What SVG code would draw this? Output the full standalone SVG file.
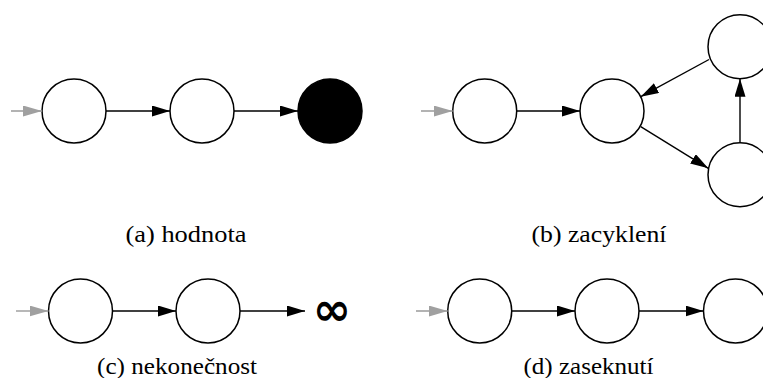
<svg xmlns="http://www.w3.org/2000/svg" width="763" height="378" viewBox="0 0 763 378">
  <style>
    .state { fill: #ffffff; stroke: #000000; stroke-width: 1.5; }
    .final { fill: #000000; stroke: #000000; stroke-width: 1.5; }
    .edge { stroke: #000000; stroke-width: 1.4; fill: none; marker-end: url(#head); }
    .start { stroke: #a0a0a0; stroke-width: 1.6; fill: none; marker-end: url(#headGray); }
    .caption { font-family: "Liberation Serif", "DejaVu Serif", serif; font-size: 23px; fill: #000000; text-anchor: middle; }
    .inf { font-family: "DejaVu Sans", "Liberation Sans", sans-serif; font-weight: bold; font-size: 46px; fill: #000000; text-anchor: middle; }
  </style>
  <defs>
    <marker id="head" markerUnits="userSpaceOnUse" markerWidth="18" markerHeight="11" refX="18" refY="5.5" orient="auto">
      <path d="M0,0 L18,5.5 L0,11 Z" fill="#000000"/>
    </marker>
    <marker id="headGray" markerUnits="userSpaceOnUse" markerWidth="19" markerHeight="11" refX="19" refY="5.5" orient="auto">
      <path d="M0,0 L19,5.5 L0,11 Z" fill="#a0a0a0"/>
    </marker>
  </defs>

  <rect width="763" height="378" fill="#ffffff"/>

  <!-- (a) value -->
  <g id="a-n1"><circle class="state" cx="74" cy="111" r="32"/></g>
  <g id="a-n2"><circle class="state" cx="202" cy="111" r="32"/></g>
  <g id="a-n3"><circle class="final" cx="330" cy="111" r="32"/></g>

  <!-- (b) cycle -->
  <g id="b-n1"><circle class="state" cx="484.7" cy="111" r="32"/></g>
  <g id="b-n2"><circle class="state" cx="612" cy="111" r="32"/></g>
  <g id="b-n3"><circle class="state" cx="740" cy="46.7" r="32"/></g>
  <g id="b-n4"><circle class="state" cx="740" cy="174.7" r="32"/></g>

  <!-- (c) infinity -->
  <g id="c-n1"><circle class="state" cx="80.5" cy="311" r="32"/></g>
  <g id="c-n2"><circle class="state" cx="208" cy="311" r="32"/></g>
  <g id="c-inf"><text class="inf" x="332" y="325">∞</text></g>

  <!-- (d) stuck -->
  <g id="d-n1"><circle class="state" cx="479.7" cy="311" r="32"/></g>
  <g id="d-n2"><circle class="state" cx="607" cy="311" r="32"/></g>
  <g id="d-n3"><circle class="state" cx="735.5" cy="311" r="32"/></g>

  <g id="connectors">
    <!-- (a) -->
    <line class="start" x1="11" y1="111" x2="42" y2="111"/>
    <line class="edge" x1="106" y1="111" x2="170" y2="111"/>
    <line class="edge" x1="234" y1="111" x2="298" y2="111"/>
    <!-- (b) -->
    <line class="start" x1="421" y1="111" x2="452.7" y2="111"/>
    <line class="edge" x1="516.7" y1="111" x2="580" y2="111"/>
    <line class="edge" x1="709" y1="59.5" x2="640.7" y2="96.7"/>
    <line class="edge" x1="640.7" y1="126.7" x2="708.3" y2="168.3"/>
    <line class="edge" x1="740" y1="142.7" x2="740" y2="78.7"/>
    <!-- (c) -->
    <line class="start" x1="16" y1="311" x2="48.5" y2="311"/>
    <line class="edge" x1="112.5" y1="311" x2="176" y2="311"/>
    <line class="edge" x1="240" y1="311" x2="305" y2="311"/>
    <!-- (d) -->
    <line class="start" x1="416" y1="311" x2="447.7" y2="311"/>
    <line class="edge" x1="511.7" y1="311" x2="575" y2="311"/>
    <line class="edge" x1="639" y1="311" x2="703.5" y2="311"/>
  </g>

  <g id="captions">
    <text class="caption" x="186" y="242" textLength="121" lengthAdjust="spacingAndGlyphs">(a) hodnota</text>
    <text class="caption" x="599" y="242" textLength="135" lengthAdjust="spacingAndGlyphs">(b) zacyklení</text>
    <text class="caption" x="177" y="373.5" textLength="160" lengthAdjust="spacingAndGlyphs">(c) nekonečnost</text>
    <text class="caption" x="588.5" y="373.5" textLength="130" lengthAdjust="spacingAndGlyphs">(d) zaseknutí</text>
  </g>
</svg>
